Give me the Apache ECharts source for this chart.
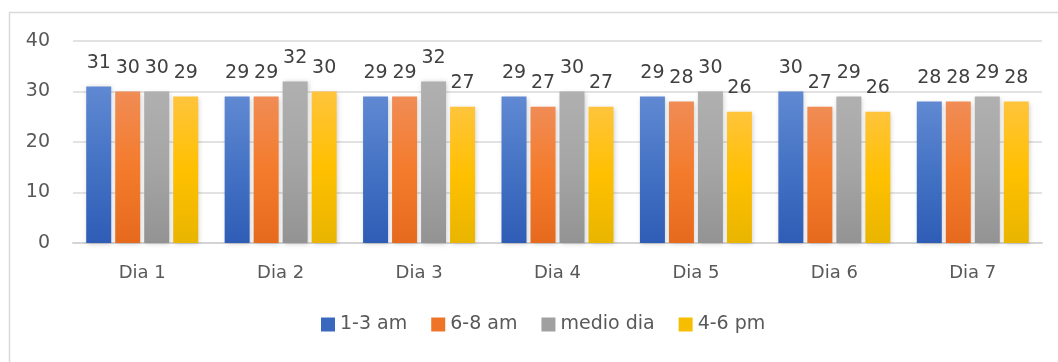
<!DOCTYPE html>
<html>
<head>
<meta charset="utf-8">
<script src="https://cdn.jsdelivr.net/npm/echarts@6/dist/echarts.min.js"></script>
<style>
  html, body { margin: 0; padding: 0; background: #fff; }
  #chart { width: 1058px; height: 362px; }
</style>
</head>
<body>
<div id="chart"></div>
<script>
// Daily readings grouped by time of day
const categories = ['Dia 1', 'Dia 2', 'Dia 3', 'Dia 4', 'Dia 5', 'Dia 6', 'Dia 7'];
const seriesNames = ['1-3 am', '6-8 am', 'medio dia', '4-6 pm'];
const madrugada = [31, 29, 29, 29, 29, 30, 28];
const manana    = [30, 29, 29, 27, 28, 27, 28];
const medioDia  = [30, 32, 32, 30, 30, 29, 29];
const tarde     = [29, 30, 27, 27, 26, 26, 28];
const yTicks = [0, 10, 20, 30, 40];

const seriesValues = [madrugada, manana, medioDia, tarde];
// top / middle / bottom shades for each series fill
const shades = [
  ['#6089d2', '#4472c4', '#2f5db6'],
  ['#f08c55', '#f47b2c', '#e66a1e'],
  ['#b0b0b0', '#a5a5a5', '#939393'],
  ['#ffc43c', '#ffc000', '#e9b500']
];
const legendColors = ['#3a68bf', '#ee7428', '#a0a0a0', '#f7bd00'];

const FONT = 'DejaVu Sans';
const TEXT = '#595959';

const chart = echarts.init(document.getElementById('chart'), null, { renderer: 'canvas' });

const series = seriesValues.map((vals, i) => ({
  name: seriesNames[i],
  type: 'bar',
  data: vals,
  barWidth: 25,
  barGap: '16%',
  itemStyle: {
    color: new echarts.graphic.LinearGradient(0, 0, 0, 1, [
      { offset: 0, color: shades[i][0] },
      { offset: 0.5, color: shades[i][1] },
      { offset: 1, color: shades[i][2] }
    ]),
    shadowColor: 'rgba(0,0,0,0.2)',
    shadowBlur: 5,
    shadowOffsetX: 1,
    shadowOffsetY: 1
  },
  label: {
    show: true,
    position: 'top',
    distance: 14,
    fontFamily: FONT,
    fontSize: 19,
    color: '#404040'
  },
  emphasis: { disabled: true }
}));

chart.setOption({
  animation: false,
  backgroundColor: '#fff',
  color: legendColors,
  graphic: [{
    type: 'rect',
    shape: { x: 9.5, y: 12.5, width: 1200, height: 500 },
    style: { fill: 'none', stroke: '#d9d9d9', lineWidth: 1.5 },
    silent: true,
    z: -10
  }],
  grid: { left: 73, right: 16, top: 41, bottom: 119, containLabel: false },
  legend: {
    data: seriesNames.map((n, i) => ({ name: n, itemStyle: { color: legendColors[i] } })),
    bottom: 23,
    left: 316,
    itemWidth: 14,
    itemHeight: 14,
    itemGap: 24,
    icon: 'rect',
    textStyle: { fontFamily: FONT, fontSize: 19, color: TEXT }
  },
  xAxis: {
    type: 'category',
    data: categories,
    axisLine: { show: true, lineStyle: { color: '#d4d4d4', width: 2 } },
    axisTick: { show: false },
    axisLabel: { fontFamily: FONT, fontSize: 18, color: TEXT, margin: 21 }
  },
  yAxis: {
    type: 'value',
    min: yTicks[0],
    max: yTicks[yTicks.length - 1],
    interval: yTicks[1] - yTicks[0],
    axisLine: { show: false },
    axisTick: { show: false },
    splitLine: { lineStyle: { color: '#d9d9d9', width: 1.5 } },
    axisLabel: { fontFamily: FONT, fontSize: 19, color: TEXT, margin: 23 }
  },
  series: series
});
</script>
</body>
</html>
